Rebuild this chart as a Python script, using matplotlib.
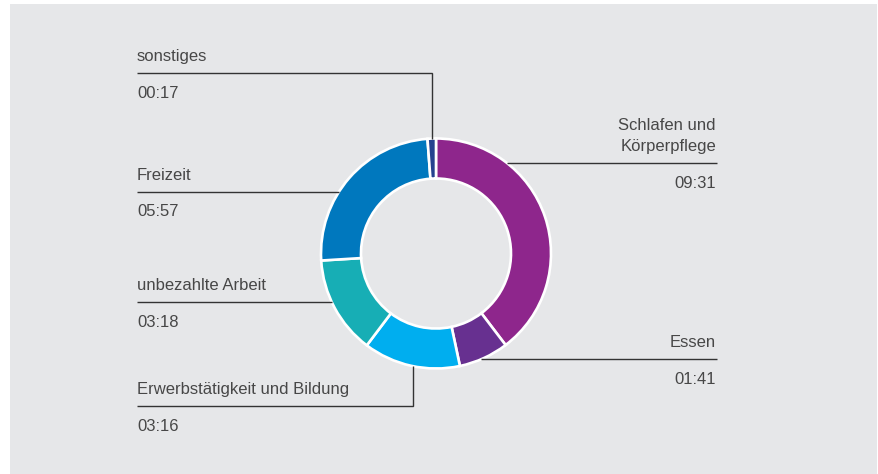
"""Tagesablauf: Zeitverwendung pro Tag als Ringdiagramm (hh:mm)."""

import matplotlib
matplotlib.use("Agg")
import matplotlib.pyplot as plt
import numpy as np

# --- data (clockwise from 12 o'clock) ---
categories = ["Schlafen und\nKörperpflege", "Essen", "Erwerbstätigkeit und Bildung",
              "unbezahlte Arbeit", "Freizeit", "sonstiges"]
times = ["09:31", "01:41", "03:16", "03:18", "05:57", "00:17"]
colors = ["#8e268c", "#673090", "#00aeef", "#17aeb5", "#0078be", "#25428f"]

minutes = [int(t[:2]) * 60 + int(t[3:]) for t in times]

# --- layout in pixel coordinates (y downwards) ---
W, H = 879, 474
cx, cy = 436, 253.5
R, ring = 115, 40
# side, y of leader line, x of vertical elbow (None = straight line)
leaders = [("right", 163.3, None), ("right", 359.3, None), ("left", 406, 413.3),
           ("left", 302.3, None), ("left", 191.5, None), ("left", 73.3, 431.7)]
x_left, x_right = 137, 717

text_col = "#474747"
line_col = "#333333"
bg = "#e6e7e9"

plt.rcParams["font.family"] = ["Liberation Sans", "DejaVu Sans"]

fig = plt.figure(figsize=(W / 100, H / 100), dpi=100)
ax = fig.add_axes([0, 0, 1, 1])

ax.add_patch(plt.Rectangle((10, 4), 867, 470, facecolor=bg, edgecolor="none", zorder=0))

# y axis is inverted, so counterclockwise in data runs clockwise on screen
ax.pie(minutes, colors=colors, startangle=-90, counterclock=True,
       center=(cx, cy), radius=R, frame=True,
       wedgeprops=dict(width=ring, edgecolor="white", linewidth=1.9))

for name, t, (side, ly, elbow) in zip(categories, times, leaders):
    if side == "left":
        x0, ha = x_left, "left"
    else:
        x0, ha = x_right, "right"
    if elbow is None:
        dx = np.sqrt(R**2 - (ly - cy) ** 2)
        x_end = cx - dx if side == "left" else cx + dx
        ax.plot([x0, x_end], [ly, ly], color=line_col, lw=1.0, zorder=1,
                solid_capstyle="butt")
    else:
        dy = np.sqrt(R**2 - (elbow - cx) ** 2)
        y_end = cy - dy if ly < cy else cy + dy
        ax.plot([x0, elbow, elbow], [ly, ly, y_end], color=line_col, lw=1.0,
                zorder=1, solid_capstyle="butt", solid_joinstyle="miter")

    parts = name.split("\n")
    for k, part in enumerate(parts):
        yb = ly - 12 - 21 * (len(parts) - 1 - k)
        ax.text(x0 - (1 if side == "right" else 0), yb, part, ha=ha, va="baseline",
                fontsize=12, color=text_col)
    ax.text(x0 - (1 if side == "right" else 0), ly + 25, t, ha=ha, va="baseline",
            fontsize=12, color=text_col)

ax.set_xlim(0, W)
ax.set_ylim(H, 0)
ax.set_aspect("auto")
ax.axis("off")

fig.savefig("out.png", dpi=100, facecolor="white")
plt.close(fig)
